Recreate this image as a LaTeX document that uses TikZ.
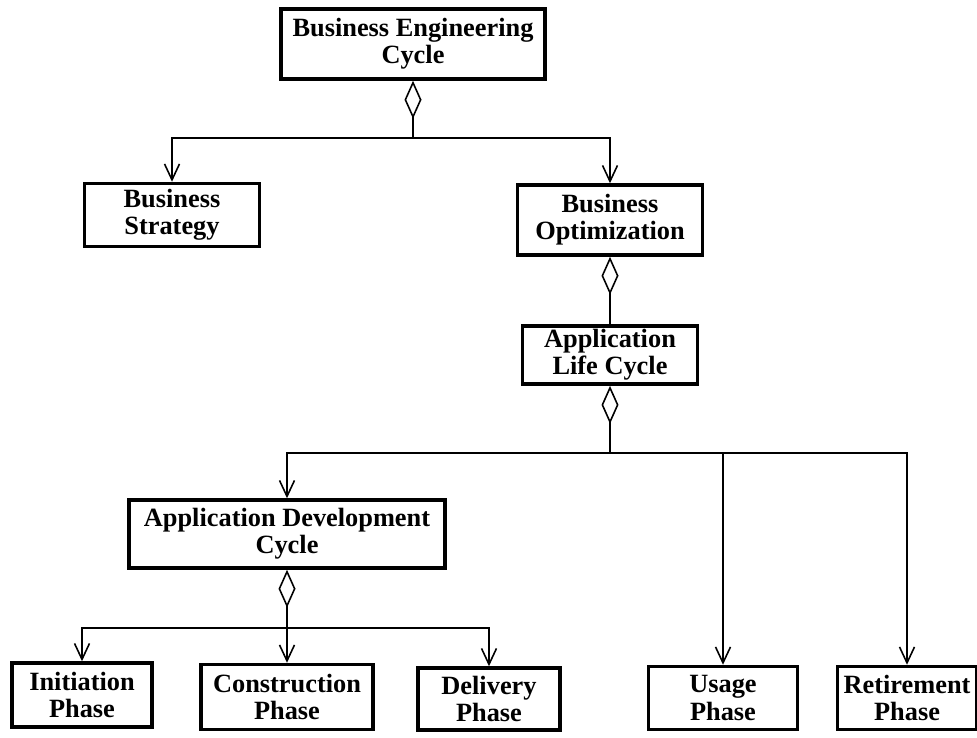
\documentclass[tikz,border=0pt]{standalone}
\usepackage{fontspec}
\setmainfont{Liberation Serif}
\usetikzlibrary{arrows.meta}

\tikzset{
  stage/.style={draw, line width=2pt, align=center, inner sep=2pt,
    font=\bfseries\fontsize{15}{15.5}\selectfont},
  agg/.style={line width=0.9pt, {Diamond[open,length=7.6mm,width=3.4mm]}-},
  link/.style={line width=0.9pt, -{Straight Barb[length=3.2mm,width=3mm]}},
}

\begin{document}
\begin{tikzpicture}[x=0.02cm,y=-0.02cm]
  \useasboundingbox (0,0) rectangle (977,737);
  % boxes
  \node[stage, minimum width=5.28cm, minimum height=1.4cm] (bec) at (413,44) {Business Engineering\\Cycle};
  \node[stage, minimum width=3.5cm, minimum height=1.26cm] (bs) at (172,215) {Business\\Strategy};
  \node[stage, minimum width=3.7cm, minimum height=1.4cm] (bo) at (610,220) {Business\\Optimization};
  \node[stage, minimum width=3.5cm, minimum height=1.14cm] (alc) at (610,355) {Application\\Life Cycle};
  \node[stage, minimum width=6.32cm, minimum height=1.36cm] (adc) at (287,534) {Application Development\\Cycle};
  \node[stage, minimum width=2.8cm, minimum height=1.28cm] (ini) at (82,695) {Initiation\\Phase};
  \node[stage, minimum width=3.44cm, minimum height=1.3cm] (con) at (287,697) {Construction\\Phase};
  \node[stage, minimum width=2.84cm, minimum height=1.24cm] (del) at (489,699) {Delivery\\Phase};
  \node[stage, minimum width=2.98cm, minimum height=1.26cm] (use) at (723,698) {Usage\\Phase};
  \node[stage, minimum width=2.78cm, minimum height=1.26cm] (ret) at (907,698) {Retirement\\Phase};
  % junctions
  \coordinate (j1) at (413,138);
  \coordinate (j2) at (610,453);
  \coordinate (j3) at (287,628);
  % connectors
  \draw[agg] (bec.south) -- (j1);
  \draw[link] (j1) -| (bs.north);
  \draw[link] (j1) -| (bo.north);
  \draw[agg] (bo.south) -- (alc.north);
  \draw[agg] (alc.south) -- (j2);
  \draw[link] (j2) -| (adc.north);
  \draw[link] (j2) -| (use.north);
  \draw[link] (j2) -| (ret.north);
  \draw[agg] (adc.south) -- (j3);
  \draw[link] (j3) -| (ini.north);
  \draw[link] (j3) -- (con.north);
  \draw[link] (j3) -| (del.north);
\end{tikzpicture}
\end{document}
